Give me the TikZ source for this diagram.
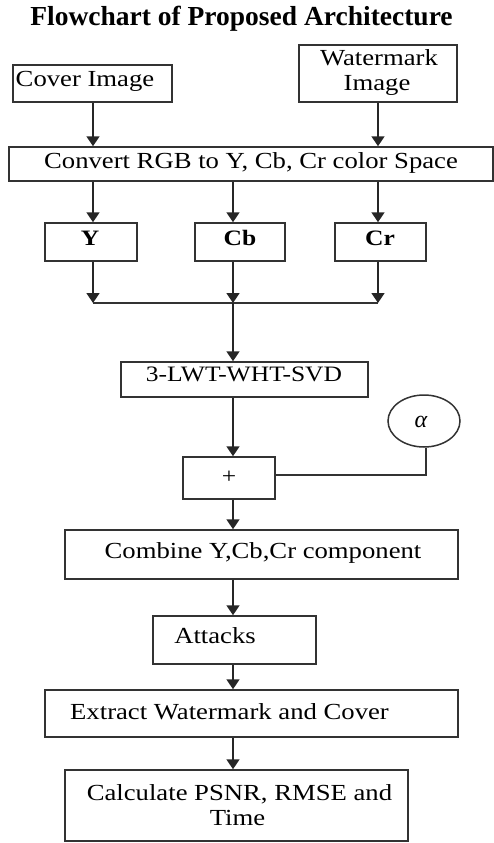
\documentclass[tikz,border=0pt]{standalone}
\usepackage{fontspec}
\usetikzlibrary{arrows.meta,shapes.geometric}
\newfontfamily\boxfont{Liberation Serif}[FakeStretch=1.16]
\newfontfamily\titlefont{Liberation Serif}

\tikzset{
  box/.style={draw=black!80, line width=1.5pt, rectangle, inner sep=0pt},
  txt/.style={inner sep=0pt, anchor=base, text=black,
              font=\boxfont\fontsize{23}{24}\selectfont},
  boldtxt/.style={txt, font=\boxfont\bfseries\fontsize{22}{24}\selectfont},
  flow/.style={draw=black!85, line width=1.5pt,
               -{Triangle[width=13pt,length=10pt]}},
  link/.style={draw=black!80, line width=1.5pt},
}

\newcommand{\boxat}[5]{% name, x1, y1, x2, y2
  \node[box, minimum width={(#4-#2)*1pt}, minimum height={(#5-#3)*1pt}]
    (#1) at ({(#2+#4)/2},{(#3+#5)/2}) {};}

\begin{document}
\begin{tikzpicture}[x=1pt,y=-1pt]
\useasboundingbox (0,0) rectangle (494,843);

% title
\node[inner sep=0pt, anchor=base, font=\titlefont\bfseries\fontsize{27.5}{30}\selectfont]
  (title) at (241.5,26) {Flowchart of Proposed Architecture};

% inputs
\boxat{coverbox}{13}{65}{172}{102}
\node[txt] (coverT) at (85,86) {Cover Image};
\boxat{wmbox}{299}{45}{457}{102}
\node[txt] (wmT1) at (379,66) {Watermark};
\node[txt] (wmT2) at (377,90) {Image};

% colour conversion
\boxat{convert}{9}{147}{493}{181}
\node[txt] (convertT) at (251,168) {Convert RGB to Y, Cb, Cr color Space};

% channels
\boxat{ybox}{45}{223}{137}{261}
\node[boldtxt] (yT) at (90,245) {Y};
\boxat{cbbox}{195}{223}{285}{261}
\node[boldtxt] (cbT) at (240,245) {Cb};
\boxat{crbox}{335}{223}{426}{261}
\node[boldtxt] (crT) at (380,245) {Cr};

% transform
\boxat{lwt}{121}{362}{368}{397}
\node[txt, font=\boxfont\fontsize{22}{24}\selectfont] (lwtT) at (244,381) {3-LWT-WHT-SVD};

% embedding
\boxat{plus}{183}{457}{275}{499}
\node[inner sep=0pt, font=\boxfont\fontsize{22}{24}\selectfont] (plusT) at (229,477) {+};
\node[draw=black!80, line width=1.5pt, ellipse, minimum width=72pt, minimum height=52pt, inner sep=0pt]
  (alpha) at (424,421) {};
\node[inner sep=0pt, font=\titlefont\itshape\fontsize{24}{26}\selectfont] (alphaT) at (421,422) {α};

% remaining stages
\boxat{combine}{65}{530}{458}{579}
\node[txt] (combineT) at (263,558) {Combine Y,Cb,Cr component};
\boxat{attacks}{153}{616}{316}{664}
\node[txt] (attacksT) at (215,643) {Attacks};
\boxat{extract}{45}{690}{458}{737}
\node[txt] (extractT) at (229.5,719) {Extract Watermark and Cover};
\boxat{calc}{65}{770}{408}{841}
\node[txt] (calcT1) at (239.5,800) {Calculate PSNR, RMSE and};
\node[txt] (calcT2) at (237.5,825) {Time};

% columns of the chart and merge point
\coordinate (colL) at (93,0);
\coordinate (spine) at (233,0);
\coordinate (colR) at (378,0);
\coordinate (merge) at (233,303);
\coordinate (feed) at (426,475);

% connectors
\draw[flow] (coverbox.south -| colL) -- (convert.north -| colL);
\draw[flow] (wmbox.south -| colR) -- (convert.north -| colR);

\draw[flow] (convert.south -| colL) -- (ybox.north -| colL);
\draw[flow] (convert.south -| spine) -- (cbbox.north -| spine);
\draw[flow] (convert.south -| colR) -- (crbox.north -| colR);

\draw[flow] (ybox.south -| colL) -- (merge -| colL);
\draw[flow] (cbbox.south -| spine) -- (merge);
\draw[flow] (crbox.south -| colR) -- (merge -| colR);
\draw[link] (merge -| colL) -- (merge -| colR);

\draw[flow] (merge) -- (lwt.north -| spine);
\draw[flow] (lwt.south -| spine) -- (plus.north -| spine);
\draw[link] (alpha.south -| feed) -- (feed) -- (plus.east |- feed);
\draw[flow] (plus.south -| spine) -- (combine.north -| spine);
\draw[flow] (combine.south -| spine) -- (attacks.north -| spine);
\draw[flow] (attacks.south -| spine) -- (extract.north -| spine);
\draw[flow] (extract.south -| spine) -- (calc.north -| spine);
\end{tikzpicture}
\end{document}
